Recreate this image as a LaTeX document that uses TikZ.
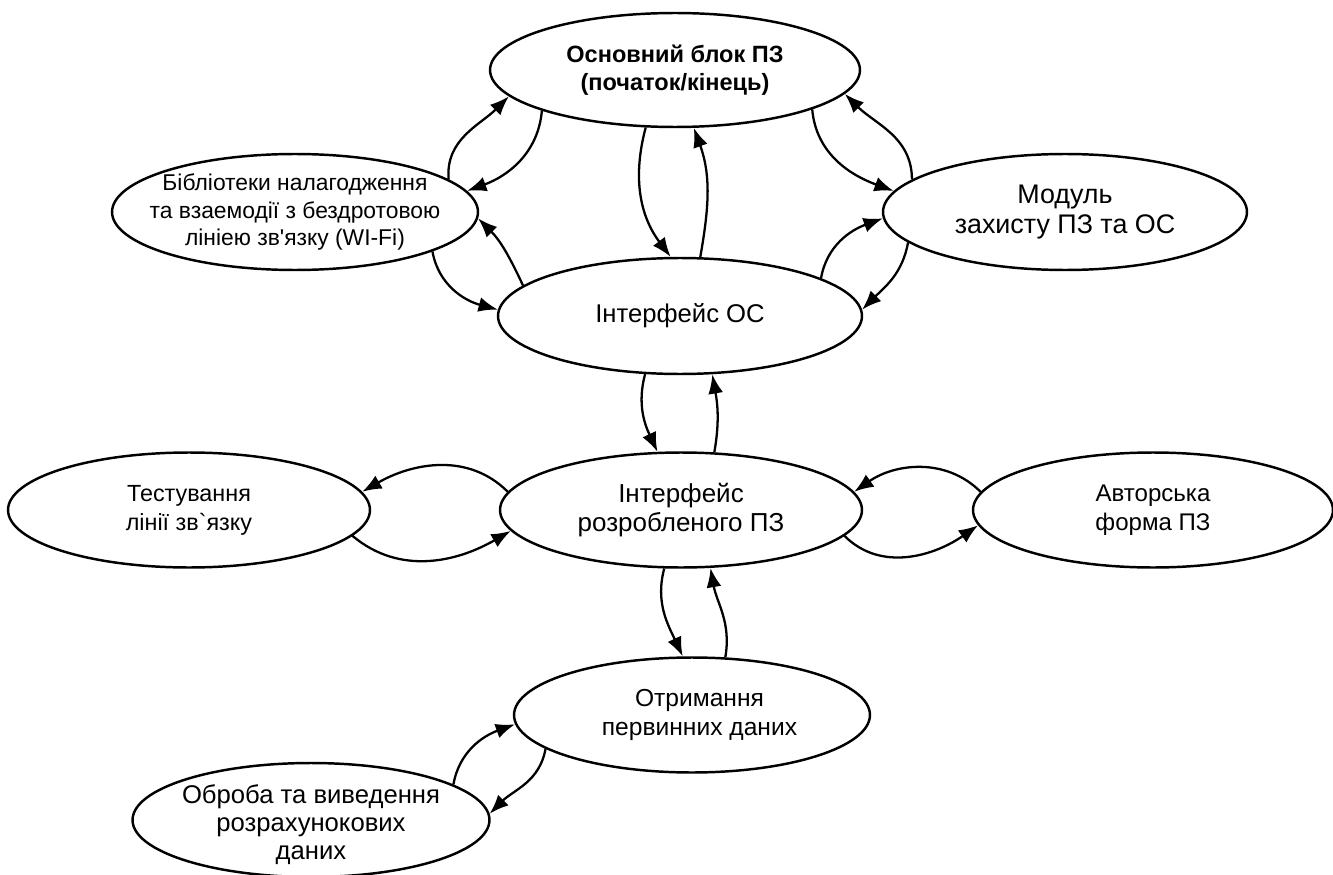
\documentclass[tikz,border=0pt]{standalone}
\usepackage{fontspec}
\setmainfont{Liberation Sans}[Ligatures=TeXOff]
\usetikzlibrary{arrows.meta}
\usetikzlibrary{shapes}

\begin{document}
\begin{tikzpicture}[x=0.02cm,y=0.02cm]
  \tikzset{block/.style={ellipse, draw, line width=1.4pt,
      minimum width=7.3cm,
      minimum height=2.32cm,
      inner sep=0pt}}
  \tikzset{caption/.style={align=center, font=\fontsize{14}{17}\selectfont}}
  \tikzset{link/.style={-{Latex[length=11pt,width=8.5pt]}, line width=1.3pt}}
  \useasboundingbox (0,0) rectangle (1333,-875);
  % ellipses
  \node[block, minimum width=7.4cm, minimum height=2.28cm] (main) at (675,-70) {};
  \node[block, minimum width=7.32cm] (lib) at (295,-212) {};
  \node[block, minimum width=7.28cm] (mod) at (1065,-212) {};
  \node[block, minimum width=7.28cm] (os) at (680,-316) {};
  \node[block, minimum width=7.24cm, minimum height=2.3cm] (test) at (189,-510) {};
  \node[block, minimum width=7.24cm, minimum height=2.3cm] (dev) at (681,-510) {};
  \node[block, minimum width=7.2cm, minimum height=2.3cm] (auth) at (1153,-510) {};
  \node[block, minimum width=7.12cm, minimum height=2.3cm] (recv) at (692,-715) {};
  \node[block, minimum width=7.14cm, minimum height=2.28cm] (proc) at (311,-820) {};
  % texts
  \node[caption, font=\fontsize{13.4}{16}\selectfont\bfseries] (maintext) at (main) {Основний блок ПЗ\\(початок/кінець)};
  \node[caption, font=\fontsize{13}{15.5}\selectfont] (libtext) at (lib) {Бібліотеки налагодження\\та взаемодії з бездротовою\\лініею зв'язку (WI-Fi)};
  \node[caption, font=\fontsize{15.3}{17.5}\selectfont] (modtext) at (mod) {Модуль\\захисту ПЗ та ОС};
  \node[caption, font=\fontsize{14.6}{17}\selectfont] (ostext) at (os) {Інтерфейс ОС};
  \node[caption, font=\fontsize{13.3}{16.5}\selectfont] (testtext) at (test) {Тестування\\лінії зв`язку};
  \node[caption, font=\fontsize{14.8}{17}\selectfont] (devtext) at (dev) {Інтерфейс\\розробленого ПЗ};
  \node[caption, font=\fontsize{13.7}{16.5}\selectfont] (authtext) at (auth) {Авторська\\форма ПЗ};
  \node[caption, font=\fontsize{14}{16.5}\selectfont] (recvtext) at ([xshift=0.15cm]recv.center) {Отримання\\первинних даних};
  \node[caption, font=\fontsize{14.6}{16}\selectfont] (proctext) at ([yshift=-0.1cm]proc.center) {Оброба та виведення\\розрахунокових\\даних};
  % connectors
  \draw[link] (lib.12) to[out=95,in=225] (main.189);
  \draw[link] (main.197) to[out=265,in=20] (lib.7);
  \draw[link] (main.243) to[out=255,in=127] (os.99);
  \draw[link] (os.71) to[out=80,in=290] (main.288);
  \draw[link] (main.344) to[out=275,in=160] (mod.173);
  \draw[link] (mod.168) to[out=90,in=315] (main.352);
  \draw[link] (os.169) to[out=115,in=315] (lib.358);
  \draw[link] (lib.344) to[out=280,in=165] (os.178);
  \draw[link] (os.15) to[out=80,in=200] (mod.182);
  \draw[link] (mod.191) to[out=260,in=45] (os.2);
  \draw[link] (os.239) to[out=255,in=115] (dev.112);
  \draw[link] (dev.60) to[out=80,in=280] (os.299);
  \draw[link] (dev.174) to[out=135,in=30] (test.6);
  \draw[link] (test.351) to[out=-40,in=210] (dev.187);
  \draw[link] (auth.174) to[out=135,in=35] (dev.6);
  \draw[link] (dev.351) to[out=-45,in=215] (auth.185);
  \draw[link] (dev.254) to[out=255,in=115] (recv.99);
  \draw[link] (recv.60) to[out=80,in=280] (dev.297);
  \draw[link] (proc.14) to[out=80,in=200] (recv.183);
  \draw[link] (recv.193) to[out=260,in=45] (proc.2);
\end{tikzpicture}
\end{document}
